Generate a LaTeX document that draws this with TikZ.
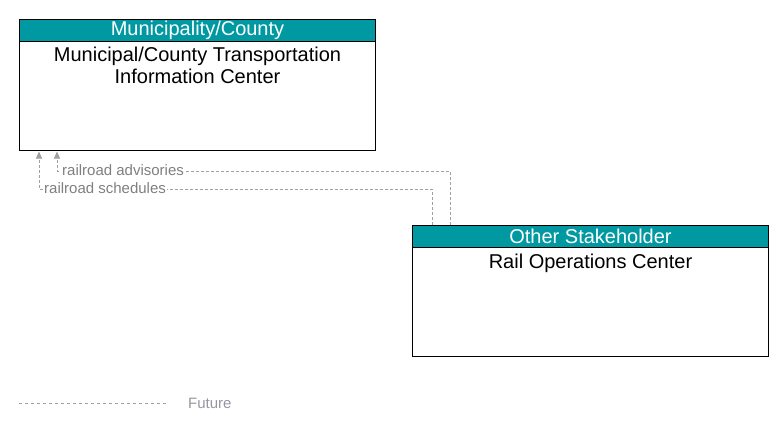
\documentclass[tikz,border=0pt]{standalone}
\usepackage{fontspec}
\setmainfont{Liberation Sans}
\usetikzlibrary{arrows.meta,calc}
\definecolor{hdr}{RGB}{0,152,161}
\definecolor{flowgray}{RGB}{160,160,160}
\definecolor{lblgray}{RGB}{128,128,128}
\definecolor{leggray}{RGB}{150,150,160}
\tikzset{
  boxbody/.style={draw=black, line width=1pt, fill=white, minimum width=356pt, minimum height=131pt, anchor=north west, inner sep=0pt},
  boxhead/.style={draw=black, line width=1pt, fill=hdr, text=white, minimum width=356pt, minimum height=22pt, anchor=north west, inner sep=0pt, font=\fontsize{20}{22}\selectfont},
  boxtext/.style={anchor=north, align=center, inner sep=0pt, font=\fontsize{20}{22}\selectfont},
  flow/.style={draw=flowgray, line width=1pt, dash pattern=on 3pt off 2pt, -{Triangle[width=6pt,length=7pt]}, color=flowgray},
  flowlbl/.style={anchor=west, fill=white, inner sep=1pt, text=lblgray, font=\fontsize{15}{16}\selectfont},
}
\begin{document}
\begin{tikzpicture}[x=1pt,y=-1pt]
\useasboundingbox (0,0) rectangle (783,431);
% box 1
\node[boxbody] (box1) at (19,19) {};
\node[boxhead] (h1) at (box1.north west) {Municipality/County};
\node[boxtext] (t1) at ($(h1.south)+(0,4.5)$) {Municipal/County Transportation\\Information Center};
% box 2
\node[boxbody] (box2) at (412,225) {};
\node[boxhead] (h2) at (box2.north west) {Other Stakeholder};
\node[boxtext] (t2) at ($(h2.south)+(0,5.5)$) {Rail Operations Center};
% flows
\draw[flow] ($(box2.north west)+(38,0)$) |- ($(box1.south west)+(38,20)$) -- ($(box1.south west)+(38,0.5)$);
\draw[flow] ($(box2.north west)+(20,0)$) |- ($(box1.south west)+(20,38)$) -- ($(box1.south west)+(20,0.5)$);
\node[flowlbl] (l1) at (61,170) {railroad advisories};
\node[flowlbl] (l2) at (43,188) {railroad schedules};
% legend
\coordinate (lg1) at (19,403);
\coordinate (lg2) at (166,403);
\draw[draw=flowgray, line width=1pt, dash pattern=on 3pt off 3pt] (lg1) -- (lg2);
\node[anchor=west, inner sep=0pt, text=leggray, font=\fontsize{15}{16}\selectfont] (fut) at (188,403) {Future};
\end{tikzpicture}
\end{document}
